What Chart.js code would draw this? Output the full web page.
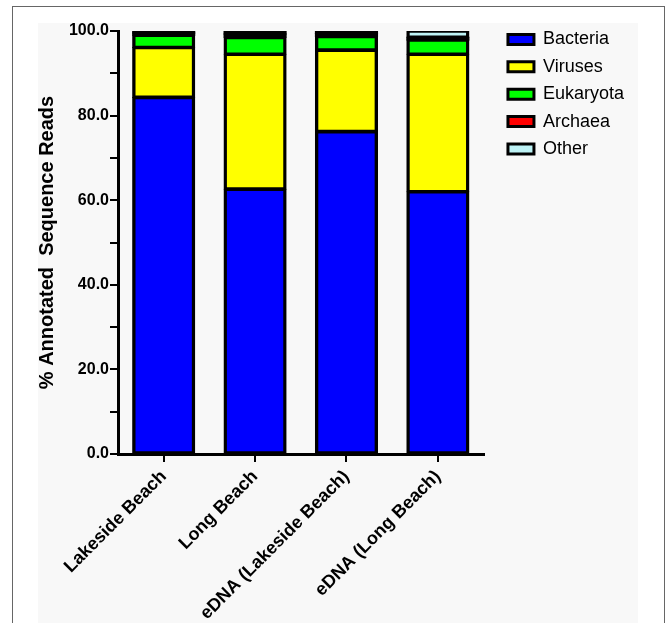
<!DOCTYPE html>
<html><head><meta charset="utf-8">
<script src="https://cdn.jsdelivr.net/npm/chart.js@4.4.1/dist/chart.umd.min.js"></script>
<style>
html,body{margin:0;padding:0;background:#fff;width:667px;height:623px;overflow:hidden;}
#frame{position:absolute;left:12px;top:6px;width:653px;height:640px;border:1.5px solid #666;box-sizing:border-box;}
#panel{position:absolute;left:38px;top:23px;width:600px;height:620px;background:#f8f8f8;}
canvas{position:absolute;left:0;top:0;}
</style></head><body>
<div id="frame"></div><div id="panel"></div>
<canvas id="c" width="667" height="623"></canvas>
<script>
const categories = ['Lakeside Beach', 'Long Beach', 'eDNA (Lakeside Beach)', 'eDNA (Long Beach)'];
const bacteria  = [84.3, 62.6, 76.2, 62.0];
const viruses   = [11.8, 31.9, 19.3, 32.5];
const eukaryota = [2.9, 4.0, 3.2, 3.4];
const archaea   = [0.5, 0.8, 0.7, 0.6];
const other     = [0.5, 0.7, 0.6, 1.5];
const yTickLabels = [0, 20, 40, 60, 80, 100];
const seriesNames = ['Bacteria', 'Viruses', 'Eukaryota', 'Archaea', 'Other'];
const seriesColors = ['#0000ff', '#ffff00', '#00ff00', '#ff0000', '#bdf2f5'];
const seriesData = [bacteria, viruses, eukaryota, archaea, other];

Chart.defaults.font.family = "'Liberation Sans', Arial, sans-serif";
Chart.defaults.color = '#000';

const OUTLINE = { top: 2.35, bottom: 2.35, left: 3.4, right: 3.4 };
// segments thinner than their outline are fully covered by the black outline (as in the original)
const isTiny = c => {
  if (c.type !== 'data') return false;
  const y = c.chart.scales.y;
  return Math.abs(y.getPixelForValue(0) - y.getPixelForValue(c.raw)) < 5.3;
};

const datasets = seriesNames.map((name, i) => ({
  label: name,
  data: seriesData[i],
  backgroundColor: c => isTiny(c) ? '#000' : seriesColors[i],
  borderColor: '#000',
  borderWidth: c => isTiny(c) ? 0 : OUTLINE,
  borderSkipped: false,
  inflateAmount: 0.5,
  barPercentage: 0.68,
  categoryPercentage: 1
}));

new Chart(document.getElementById('c'), {
  type: 'bar',
  data: { labels: categories, datasets },
  options: {
    responsive: false,
    animation: false,
    devicePixelRatio: 1,
    layout: { padding: { left: 32, top: 21, right: 33, bottom: 0 } },
    plugins: {
      tooltip: { enabled: false },
      title: { display: true, text: '', font: { size: 10, lineHeight: 1 }, padding: 0 },
      legend: {
        position: 'right',
        align: 'start',
        maxWidth: 300,
        labels: {
          boxWidth: 26,
          boxHeight: 10,
          padding: 9.4,
          color: '#000',
          font: { size: 18 },
          generateLabels(chart) {
            const items = Chart.defaults.plugins.legend.labels.generateLabels(chart);
            items.forEach((it, i) => { it.lineWidth = 3; it.strokeStyle = '#000'; it.fillStyle = seriesColors[i]; });
            return items;
          }
        }
      }
    },
    scales: {
      x: {
        stacked: true,
        grid: { drawOnChartArea: false, drawTicks: true, tickLength: 8, offset: false, color: '#000', lineWidth: 2 },
        border: { color: '#000', width: 3 },
        ticks: { font: { size: 18, weight: 'bold' }, maxRotation: 45, minRotation: 45, padding: 4, color: '#000' },
        afterFit(s) { s.height = 169; }
      },
      y: {
        stacked: true,
        min: 0,
        max: 100,
        ticks: {
          stepSize: 10,
          callback: v => yTickLabels.includes(v) ? v.toFixed(1) : '',
          font: { size: 16, weight: 'bold' },
          padding: 1,
          color: '#000'
        },
        grid: { drawOnChartArea: false, tickLength: 8, color: '#000', lineWidth: 2 },
        border: { color: '#000', width: 3 },
        title: { display: true, text: '% Annotated  Sequence Reads', font: { size: 20, weight: 'bold' }, color: '#000', padding: { top: 3, bottom: 4 } },
        afterFit(s) { s.width = 86; }
      },
      y2: {
        position: 'right',
        display: true,
        grid: { display: false },
        ticks: { display: false },
        border: { display: false },
        afterFit(s) { s.width = 15; }
      }
    }
  }
});
</script>
</body></html>
